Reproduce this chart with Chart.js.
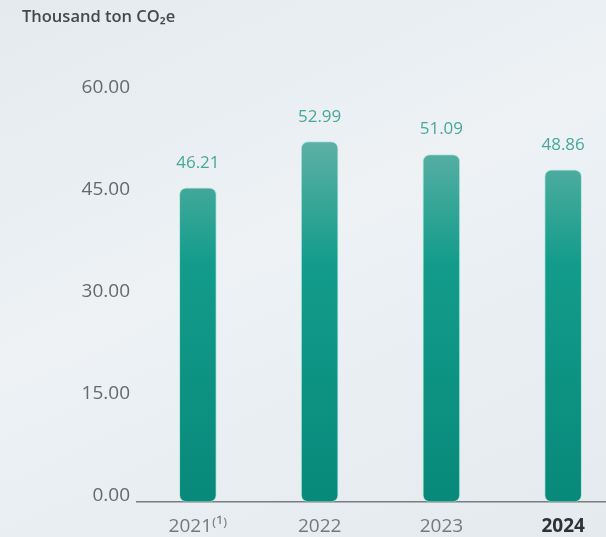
<!DOCTYPE html>
<html>
<head>
<meta charset="utf-8">
<script src="https://cdn.jsdelivr.net/npm/chart.js@4.4.1/dist/chart.umd.min.js"></script>
<style>
  html, body {
    margin: 0;
    padding: 0;
    width: 606px;
    height: 537px;
    overflow: hidden;
    background: linear-gradient(155deg, #e5eaee 0%, #eef2f5 45%, #e9eef2 70%, #e4eaee 100%);
  }
  #wrap {
    position: relative;
    width: 624px;
    height: 537px;
  }
</style>
</head>
<body>
<div id="wrap"><canvas id="bars"></canvas></div>
<script>
const anos = ['2021⁽¹⁾', '2022', '2023', '2024'];
const emissoes = [46.21, 52.99, 51.09, 48.86];
const ticksY = [0, 15, 30, 45, 60];

const titulo = 'Thousand ton CO₂e';

// gradiente vertical das barras (claro no topo, escuro na base)
function corBarra(context) {
  const chart = context.chart;
  const area = chart.chartArea;
  if (!area) return '#0e9583';
  const g = chart.ctx.createLinearGradient(0, area.top + 40, 0, area.bottom);
  g.addColorStop(0, '#62b1a6');
  g.addColorStop(0.35, '#139c8b');
  g.addColorStop(1, '#08897a');
  return g;
}

const tituloPlugin = {
  id: 'tituloPlugin',
  afterDraw(chart) {
    const ctx = chart.ctx;
    ctx.save();
    ctx.font = '600 16.5px "Open Sans"';
    ctx.fillStyle = '#46494c';
    ctx.textAlign = 'left';
    ctx.textBaseline = 'middle';
    ctx.fillText(titulo, 22, 17);
    ctx.restore();
  }
};

const valoresPlugin = {
  id: 'valoresPlugin',
  afterDatasetsDraw(chart) {
    const ctx = chart.ctx;
    const meta = chart.getDatasetMeta(0);
    ctx.save();
    ctx.font = '17px "Open Sans"';
    ctx.fillStyle = '#46a89b';
    ctx.textAlign = 'center';
    ctx.textBaseline = 'middle';
    meta.data.forEach((bar, i) => {
      ctx.fillText(emissoes[i].toFixed(2), bar.x, bar.y - 25);
    });
    ctx.restore();
  }
};

new Chart(document.getElementById('bars').getContext('2d'), {
  type: 'bar',
  data: {
    labels: anos,
    datasets: [{
      data: emissoes,
      backgroundColor: corBarra,
      borderColor: 'rgba(140, 225, 215, 0.55)',
      borderWidth: 1,
      borderRadius: 7,
      borderSkipped: false,
      barThickness: 37,
    }],
  },
  options: {
    responsive: true,
    maintainAspectRatio: false,
    animation: false,
    layout: {
      padding: { left: 0, right: 0, top: 94, bottom: 0 },
    },
    scales: {
      y: {
        min: 0,
        max: 60,
        afterFit(scale) { scale.width = 137; },
        afterBuildTicks(scale) { scale.ticks = ticksY.map(v => ({ value: v })); },
        grid: { display: false, drawTicks: false },
        border: { display: false },
        ticks: {
          padding: 7,
          labelOffset: -6,
          color: '#66696c',
          font: { family: 'Open Sans', size: 19 },
          callback: (v) => Number(v).toFixed(2),
        },
      },
      x: {
        afterFit(scale) { scale.height = 35; },
        grid: { display: false, drawTicks: false },
        border: { display: true, color: '#7a7d80', width: 1.5 },
        ticks: {
          padding: 13,
          color: (c) => (c.index === 3 ? '#2f3234' : '#76797c'),
          font: (c) => ({
            family: 'Open Sans',
            size: 19,
            weight: c.index === 3 ? 'bold' : 'normal',
          }),
        },
      },
    },
    plugins: {
      legend: { display: false },
      tooltip: { enabled: false },
      title: { display: false },
    },
  },
  plugins: [tituloPlugin, valoresPlugin],
});
</script>
</body>
</html>
